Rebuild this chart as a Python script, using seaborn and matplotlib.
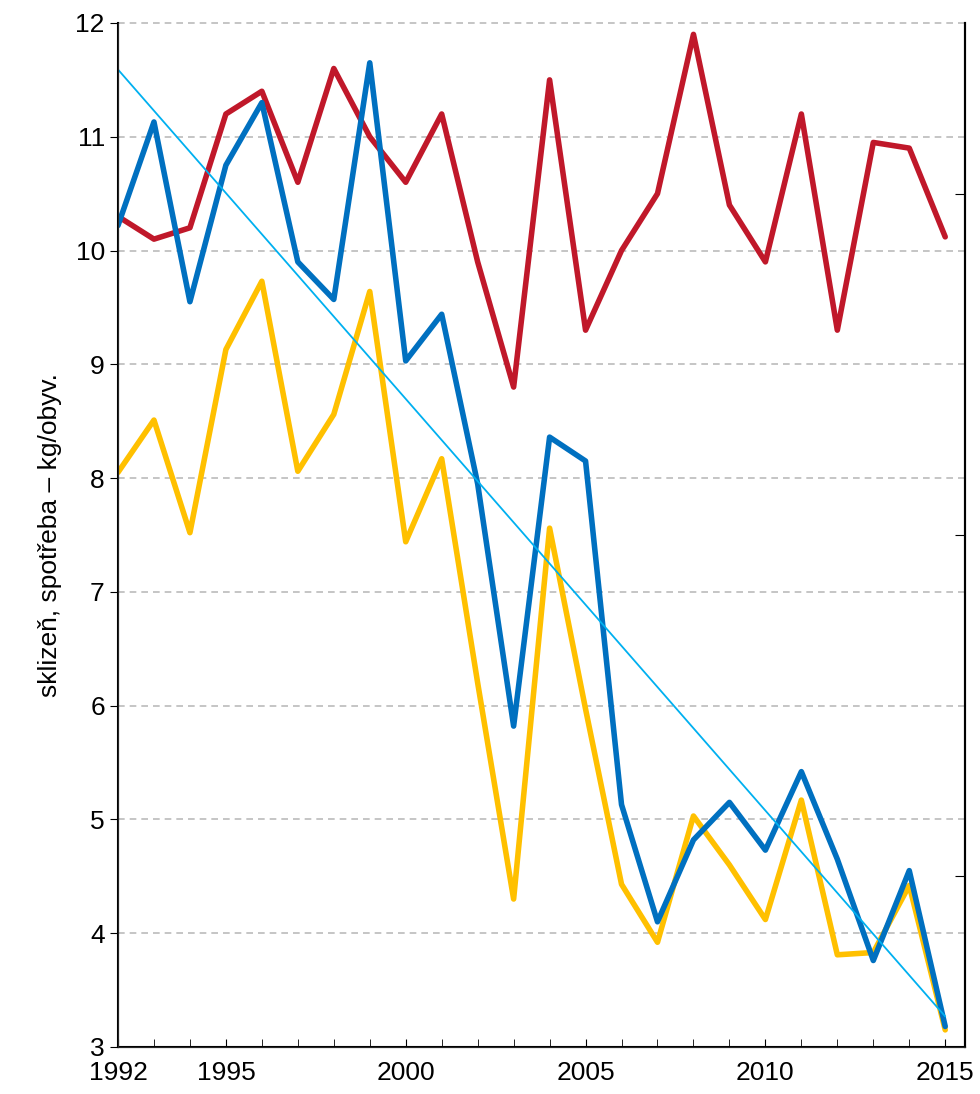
import numpy as np
import pandas as pd
import matplotlib
matplotlib.use("Agg")
import matplotlib.pyplot as plt
import seaborn as sns

years = list(range(1992, 2016))
red = [10.3, 10.1, 10.2, 11.2, 11.4, 10.6, 11.6, 11.0, 10.6, 11.2, 9.9, 8.8,
       11.5, 9.3, 10.0, 10.5, 11.9, 10.4, 9.9, 11.2, 9.3, 10.95, 10.9, 10.12]
blue = [10.22, 11.13, 9.55, 10.75, 11.3, 9.9, 9.57, 11.65, 9.03, 9.44, 7.95, 5.82,
        8.36, 8.15, 5.13, 4.1, 4.82, 5.15, 4.73, 5.42, 4.65, 3.76, 4.55, 3.18]
yellow = [8.05, 8.51, 7.52, 9.13, 9.73, 8.06, 8.56, 9.64, 7.44, 8.17, 6.2, 4.3,
          7.56, 5.97, 4.43, 3.92, 5.03, 4.6, 4.12, 5.17, 3.81, 3.83, 4.42, 3.15]

df = pd.DataFrame({"rok": years, "red": red, "blue": blue, "yellow": yellow})
k, q = np.polyfit(df["rok"], df["blue"], 1)
df["trend"] = k * df["rok"] + q

sns.set_style("white")
plt.rcParams['font.family'] = ['Liberation Sans', 'DejaVu Sans']
plt.rcParams['text.color'] = 'black'
plt.rcParams['xtick.color'] = 'black'
plt.rcParams['ytick.color'] = 'black'
plt.rcParams['axes.labelcolor'] = 'black'

fig = plt.figure(figsize=(9.8, 10.94), dpi=100)
ax = fig.add_axes([0.1204, 0.043, 0.8643, 0.936])

for y in range(4, 13):
    ax.axhline(y, color="#bbbbbb", ls=(0, (4, 3)), lw=1.2, zorder=0, clip_on=False)

sns.lineplot(data=df, x="rok", y="yellow", color="#ffc000", lw=4, ax=ax)
sns.lineplot(data=df, x="rok", y="red", color="#c0182a", lw=4, ax=ax)
sns.lineplot(data=df, x="rok", y="blue", color="#0070c0", lw=4, ax=ax)
sns.lineplot(data=df, x="rok", y="trend", color="#00b0f0", lw=1.3, ax=ax)

ax.set_xlim(1992, 2015.55)
ax.set_ylim(3, 12)
ax.set_xticks([1992, 1995, 2000, 2005, 2010, 2015])
ax.set_xticks(range(1992, 2016), minor=True)
ax.set_yticks(range(3, 13))
ax.set_xlabel("")
ax.set_ylabel("sklizeň, spotřeba – kg/obyv.", fontsize=19, labelpad=10)
ax.tick_params(axis="y", direction="out", length=6, labelsize=19, left=True)
ax.tick_params(axis="x", which="both", direction="in", length=6, labelsize=19,
               bottom=True, pad=10)
ax.spines["top"].set_visible(False)
for s in ax.spines.values():
    s.set_color("black")
    s.set_linewidth(1.5)

ax2 = ax.twinx()
ax2.set_ylim(0, 3)
ax2.set_yticks([0.5, 1.5, 2.5])
ax2.set_yticklabels([])
ax2.tick_params(axis="y", direction="in", length=7, right=True)
ax2.spines["top"].set_visible(False)
ax2.spines["right"].set_linewidth(1.5)
ax2.spines["right"].set_color("black")

fig.savefig("out.png", dpi=100)
